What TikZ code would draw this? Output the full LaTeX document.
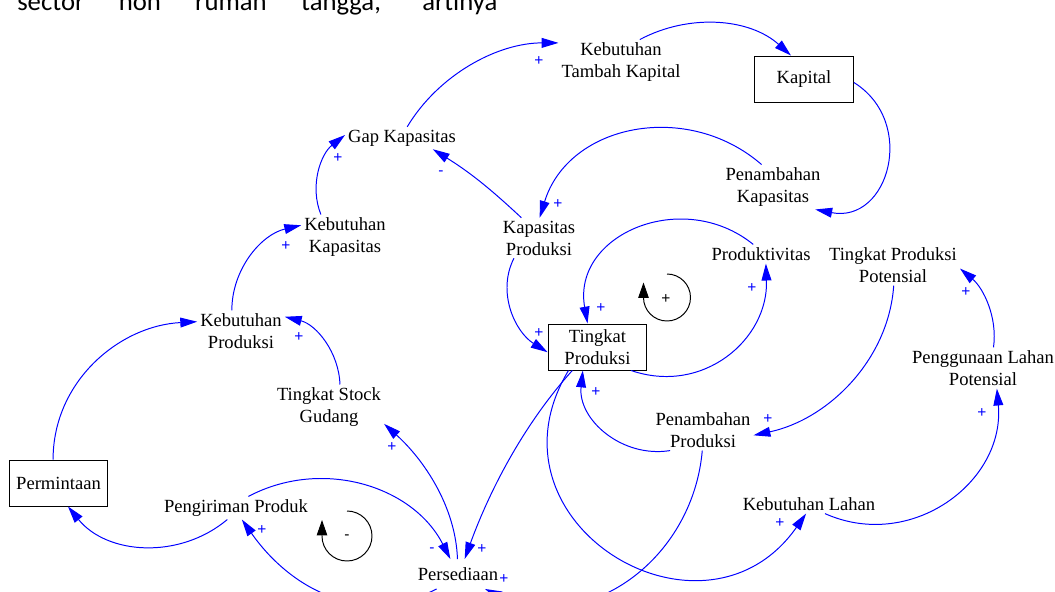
\documentclass[tikz,border=0pt]{standalone}
\usepackage{fontspec}
\setmainfont{Liberation Serif}
\newfontfamily\sgnfont{Liberation Sans}
\newfontfamily\bodyfont{Carlito}
\usepackage{tikz}
\usetikzlibrary{arrows.meta}

\begin{document}
\begin{tikzpicture}[x=0.025cm, y=0.025cm,
  var/.style={align=center, inner sep=2pt, font=\rmfamily\fontsize{13.2}{15.6}\selectfont},
  lvl/.style={var, draw, line width=0.7pt, minimum width=2.47cm, minimum height=1.15cm},
  cause/.style={blue, line width=0.7pt, -{Triangle[length=12pt,width=7pt]}},
  polar/.style={blue, inner sep=0pt, font=\sgnfont\fontsize{11}{12}\selectfont},
  loopmark/.style={black, line width=0.7pt, -{Triangle[length=11pt,width=7.5pt]}}]

        \useasboundingbox (0,0) rectangle (1055,-592);
        \clip (0,0) rectangle (1055,-592);

        %Text line
        \node [anchor=base west, inner sep=0pt, font=\bodyfont\fontsize{19}{23}\selectfont]
          (line) at (17,-10) {\makebox[12cm][s]{sector non rumah tangga, artinya}};

        %Variables
        \node [var] (ktk) at (621,-62)   {Kebutuhan\\Tambah Kapital};
        \node [lvl] (kap) at (804,-79)   {Kapital};
        \node [var] (gap) at (402,-138)  {Gap Kapasitas};
        \node [var] (pk)  at (773,-187)  {Penambahan\\Kapasitas};
        \node [var] (kpr) at (539,-238)  {Kapasitas\\Produksi};
        \node [var] (pd)  at (761,-254)  {Produktivitas};
        \node [var] (tpp) at (893,-265)  {Tingkat Produksi\\Potensial};
        \node [var] (kk)  at (345,-237)  {Kebutuhan\\Kapasitas};
        \node [var] (kp)  at (241,-331)  {Kebutuhan\\Produksi};
        \node [lvl] (tp)  at (597.5,-347) {Tingkat\\Produksi};
        \node [var] (tsg) at (329,-407)  {Tingkat Stock\\Gudang};
        \node [var] (plp) at (983,-368)  {Penggunaan Lahan\\Potensial};
        \node [var] (ppr) at (703,-430)  {Penambahan\\Produksi};
        \node [lvl] (pm)  at (58.5,-483) {Permintaan};
        \node [var] (kl)  at (809,-504)  {Kebutuhan Lahan};
        \node [var] (pp)  at (236,-508)  {Pengiriman Produk};
        \node [var, outer ysep=4pt] (ps) at (458,-574) {Persediaan};

        %Links
        \draw [cause] (gap.65)   to[out=59,in=180,looseness=0.9]   (ktk.163);
        \draw [cause] (ktk.50)   to[out=28,in=138,looseness=0.94]  (kap.119);
        \draw [cause] (kap.-4)   to[out=-32,in=-11,looseness=1.44] (pk.-28);
        \draw [cause] (pk.117)   to[out=139,in=73,looseness=1.1]   (kpr.88);
        \draw [cause] (kpr.131)  to[out=137,in=-32,looseness=1]    (gap.-20);
        \draw [cause] (kpr.-141) to[out=-117,in=148,looseness=0.98] (tp.-174);
        \draw [cause] (kk.137)   to[out=112,in=-142,looseness=0.95] (gap.177);
        \draw [cause] (kp.114)   to[out=90,in=-167,looseness=0.96] (kk.165);
        \draw [cause] (pm.103)   to[out=90,in=-177,looseness=1]    (kp.168);
        \draw [cause] (tsg.64)   to[out=92,in=-14,looseness=0.95]  (kp.18);
        \draw [cause] (pp.-127)  to[out=-140,in=-51,looseness=1]   (pm.-68);
        \draw [cause] (ps.-145)  to[out=-153,in=-55,looseness=1.05] (pp.-63);
        \draw [cause] (pp.43)    to[out=28,in=117,looseness=1]     (ps.117);
        \draw [cause] (ps.92)    to[out=92,in=-42,looseness=0.88]  (tsg.-17);
        \draw [cause] (tp.-137)  to[out=-132,in=70,looseness=0.86] (ps.66);
        \draw [cause] (tp.-141)  to[out=-121,in=-125,looseness=1.645] (kl.-107);
        \draw [cause] (ppr.-92)  to[out=-95,in=-25,looseness=1.1]  (ps.-29);
        \draw [cause] (ppr.-148) to[out=189,in=-96,looseness=1.06] (tp.-122);
        \draw [cause] (tp.-35)   to[out=-19,in=-88,looseness=1.13] (pd.-63);
        \draw [cause] (pd.129)   to[out=141,in=100,looseness=1.26] (tp.113);
        \draw [cause] (tpp.-88)  to[out=-94,in=12,looseness=0.94]  (ppr.-6);
        \draw [cause] (plp.63)   to[out=82,in=-40,looseness=0.91]  (tpp.-3);
        \draw [cause] (kl.-31)   to[out=-24,in=-85,looseness=1.13] (plp.-56);

        %Polarities
        \foreach \px/\py/\s [count=\i] in {539/61/+, 558/204/+, 441/173/-, 539/333/+,
            338/158/+, 286/246/+, 299/337/+, 262/530/+, 432/550/-, 392/447/+,
            482/549/+, 780/523/+, 504/579/+, 596/392/+, 752/288/+, 601/308/+,
            768/419/+, 966/292/+, 982/413/+}
          \node [polar] (sg\i) at (\px,-\py) {\s};

        %Loops
        \coordinate (lpc) at (667,-297.5);
        \draw [loopmark] ([shift={(90:23.5)}]lpc) arc[start angle=90, end angle=-180, radius=23.5] -- ++(0,15);
        \node [polar, black] (lps) at (666,-299) {+};
        \coordinate (lmc) at (347,-536);
        \draw [loopmark] ([shift={(90:25)}]lmc) arc[start angle=90, end angle=-180, radius=25] -- ++(0,16);
        \node [polar, black] (lms) at (347,-537) {-};

\end{tikzpicture}
\end{document}
